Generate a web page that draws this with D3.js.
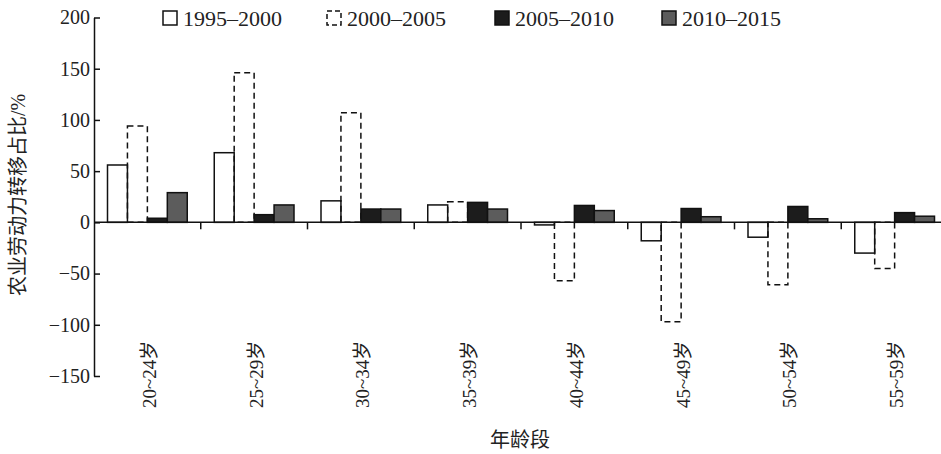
<!DOCTYPE html>
<html>
<head>
<meta charset="utf-8">
<script src="https://cdn.jsdelivr.net/npm/d3@7/dist/d3.min.js"></script>
<style>
  html, body { margin: 0; padding: 0; background: #fff; }
  svg { display: block; }
  text { font-family: "Liberation Serif", "Noto Sans CJK SC", serif; fill: #222; }
</style>
</head>
<body>
<svg id="chart" width="941" height="454"></svg>
<script>
const categories = ["20~24岁", "25~29岁", "30~34岁", "35~39岁", "40~44岁", "45~49岁", "50~54岁", "55~59岁"];
const seriesNames = ["1995–2000", "2000–2005", "2005–2010", "2010–2015"];
const v1995 = [56, 68, 21, 17, -2.5, -18, -14.5, -30];
const v2000 = [94, 146, 107, 20, -57, -97, -61, -45];
const v2005 = [4, 7.5, 13, 19.5, 16.5, 13.5, 15.5, 9.5];
const v2010 = [29, 17, 13, 13, 11.5, 5.5, 3.5, 6];
const yTicks = [200, 150, 100, 50, 0, -50, -100, -150];

const seriesValues = [v1995, v2000, v2005, v2010];
const styles = [
  { fill: "#ffffff", dash: null },
  { fill: "none", dash: "6,4" },
  { fill: "#1c1c1c", dash: null },
  { fill: "#5c5c5c", dash: null }
];

const svg = d3.select("#chart");
const x0 = d3.scaleBand().domain(categories).range([94, 948]).padding(0);
const x1 = d3.scaleBand().domain(seriesNames).range([13.5, x0.bandwidth() - 13.5]).padding(0);
const y = d3.scaleLinear().domain([-150, 200]).range([376, 17.5]);

// bars
const groups = svg.append("g").selectAll("g")
  .data(categories)
  .join("g")
  .attr("transform", d => `translate(${x0(d)},0)`);

groups.selectAll("rect")
  .data((c, i) => seriesNames.map((s, j) => ({ s, j, v: seriesValues[j][i] })))
  .join("rect")
  .attr("x", d => x1(d.s))
  .attr("width", x1.bandwidth())
  .attr("y", d => y(Math.max(0, d.v)))
  .attr("height", d => Math.abs(y(d.v) - y(0)))
  .attr("fill", d => styles[d.j].fill)
  .attr("stroke", "#111")
  .attr("stroke-width", 1.5)
  .attr("stroke-dasharray", d => styles[d.j].dash);

// x axis line and separators
svg.append("line")
  .attr("x1", x0.range()[0]).attr("x2", 941)
  .attr("y1", y(0)).attr("y2", y(0))
  .attr("stroke", "#111").attr("stroke-width", 1.5);

svg.append("g").selectAll("line")
  .data(categories.slice(1))
  .join("line")
  .attr("x1", d => x0(d)).attr("x2", d => x0(d))
  .attr("y1", y(0)).attr("y2", y(0) + 7)
  .attr("stroke", "#111").attr("stroke-width", 1.5);

// category labels
svg.append("g").selectAll("text")
  .data(categories)
  .join("text")
  .attr("transform", d => `translate(${x0(d) + x0.bandwidth() / 2 + 2},408) rotate(-90)`)
  .attr("text-anchor", "start")
  .attr("dominant-baseline", "central")
  .style("font-size", "19px")
  .text(d => d);

// y axis
const yAxis = d3.axisLeft(y).tickValues(yTicks).tickSizeInner(-6).tickSizeOuter(0).tickPadding(4);
const yg = svg.append("g").attr("transform", `translate(${x0.range()[0]},0)`).call(yAxis);
yg.select(".domain").attr("stroke", "#111").attr("stroke-width", 1.5);
yg.selectAll(".tick line").attr("stroke", "#111").attr("stroke-width", 1.5);
yg.selectAll(".tick text")
  .style("font-size", "20px")
  .style("font-family", "'Liberation Serif', serif")
  .attr("fill", "#222");

// axis titles
svg.append("text")
  .attr("transform", "translate(18,195) rotate(-90)")
  .attr("text-anchor", "middle")
  .attr("dominant-baseline", "central")
  .style("font-size", "20px")
  .text("农业劳动力转移占比/%");

svg.append("text")
  .attr("x", 520).attr("y", 447)
  .attr("text-anchor", "middle")
  .style("font-size", "20px")
  .text("年龄段");

// legend
const legendX = [163, 327, 495, 662];
const leg = svg.append("g").selectAll("g")
  .data(seriesNames)
  .join("g")
  .attr("transform", (d, i) => `translate(${legendX[i]},11)`);
leg.append("rect")
  .attr("x", 0).attr("y", 0).attr("width", 14).attr("height", 14)
  .attr("fill", (d, i) => styles[i].fill)
  .attr("stroke", "#111").attr("stroke-width", 1.5)
  .attr("stroke-dasharray", (d, i) => styles[i].dash ? "5,3" : null);
leg.append("text")
  .attr("x", 20).attr("y", 15)
  .style("font-size", "22px")
  .text(d => d);
</script>
</body>
</html>
